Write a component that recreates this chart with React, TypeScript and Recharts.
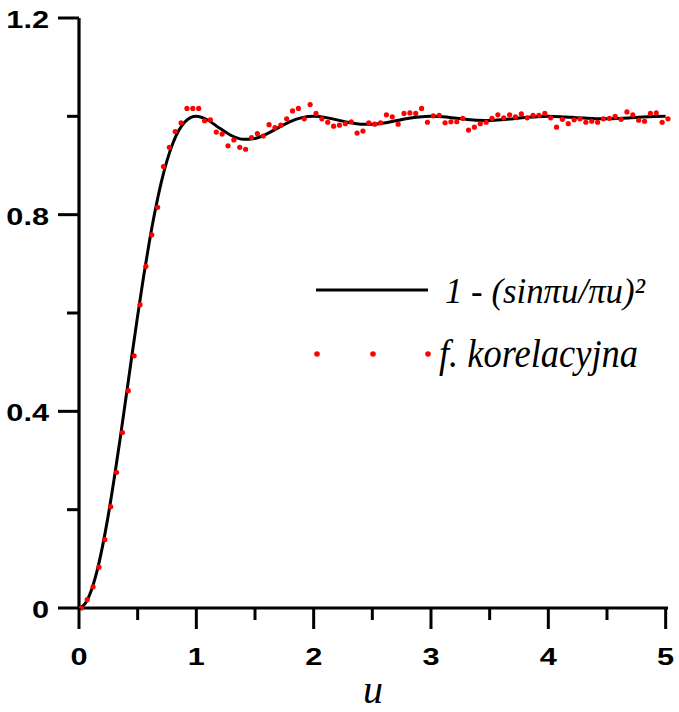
import { ComposedChart, Line, Scatter, XAxis, YAxis } from "recharts";

// theoretical curve 1 - (sin πu / πu)^2, values read at the listed u
const curveU = [
  0, 0.05, 0.1, 0.15, 0.2, 0.25, 0.3, 0.35, 0.4, 0.45, 0.5, 0.55, 0.6, 0.65, 0.7, 0.75, 0.8, 0.85, 0.9, 0.95,
  1.0, 1.1, 1.2, 1.3, 1.4, 1.5, 1.6, 1.7, 1.8, 1.9, 2.0, 2.1, 2.2, 2.3, 2.4, 2.5, 2.6, 2.7, 2.8, 2.9,
  3.0, 3.1, 3.2, 3.3, 3.4, 3.5, 3.6, 3.7, 3.8, 3.9, 4.0, 4.1, 4.2, 4.3, 4.4, 4.5, 4.6, 4.7, 4.8, 4.9, 5.0,
];
const curveV = [
  0, 0.0082, 0.0325, 0.0719, 0.1249, 0.1894, 0.2632, 0.3434, 0.4272, 0.5119, 0.5947, 0.6732, 0.7454, 0.8096,
  0.8647, 0.9099, 0.9453, 0.9711, 0.9881, 0.9973, 1.0, 0.992, 0.9757, 0.9608, 0.9532, 0.955, 0.9642, 0.9771,
  0.9892, 0.9973, 1.0, 0.9978, 0.9928, 0.9875, 0.9841, 0.9838, 0.9864, 0.9909, 0.9955, 0.9988, 1.0, 0.999,
  0.9966, 0.9939, 0.9921, 0.9917, 0.9929, 0.9952, 0.9976, 0.9994, 1.0, 0.9994, 0.998, 0.9964, 0.9953, 0.995,
  0.9957, 0.997, 0.9985, 0.9996, 1.0,
];

// correlation function samples
const dotU = [
  0.02, 0.07, 0.12, 0.17, 0.22, 0.27, 0.32, 0.37, 0.42, 0.47, 0.52, 0.57, 0.62, 0.67, 0.72, 0.77, 0.82, 0.87,
  0.92, 0.97, 1.02, 1.07, 1.12, 1.17, 1.22, 1.27, 1.32, 1.37, 1.42, 1.47, 1.52, 1.57, 1.62, 1.67, 1.72, 1.77,
  1.82, 1.87, 1.92, 1.97, 2.02, 2.07, 2.12, 2.17, 2.22, 2.27, 2.32, 2.37, 2.42, 2.47, 2.52, 2.57, 2.62, 2.67,
  2.72, 2.77, 2.82, 2.87, 2.92, 2.97, 3.02, 3.07, 3.12, 3.17, 3.22, 3.27, 3.32, 3.37, 3.42, 3.47, 3.52, 3.57,
  3.62, 3.67, 3.72, 3.77, 3.82, 3.87, 3.92, 3.97, 4.02, 4.07, 4.12, 4.17, 4.22, 4.27, 4.32, 4.37, 4.42, 4.47,
  4.52, 4.57, 4.62, 4.67, 4.72, 4.77, 4.82, 4.87, 4.92, 4.97, 5.02,
];
const dotV = [
  0.0, 0.017, 0.043, 0.083, 0.139, 0.206, 0.276, 0.357, 0.442, 0.513, 0.617, 0.695, 0.759, 0.815, 0.898, 0.937,
  0.969, 0.987, 1.016, 1.016, 1.016, 0.991, 0.993, 0.968, 0.964, 0.94, 0.952, 0.937, 0.933, 0.957, 0.965, 0.96,
  0.983, 0.977, 0.982, 0.995, 1.011, 1.016, 0.995, 1.024, 1.006, 0.995, 0.988, 0.98, 0.982, 0.985, 0.989, 0.966,
  0.97, 0.987, 0.984, 0.987, 1.003, 0.999, 0.984, 1.006, 1.007, 1.006, 1.016, 0.988, 1.001, 1.002, 0.987, 0.989,
  0.989, 0.996, 0.972, 0.978, 0.985, 0.988, 0.996, 1.003, 0.997, 1.003, 0.999, 1.005, 0.997, 1.002, 1.002, 1.006,
  0.997, 0.978, 0.994, 0.985, 0.993, 0.995, 0.988, 0.99, 0.988, 0.995, 0.996, 1.0, 0.994, 1.009, 1.003, 0.992,
  0.99, 1.006, 1.007, 0.988, 0.995,
];

const xTicks = [0, 0.5, 1, 1.5, 2, 2.5, 3, 3.5, 4, 4.5, 5];
const xLabels = [0, 1, 2, 3, 4, 5];
const yTicks = [0, 0.2, 0.4, 0.6, 0.8, 1.0, 1.2];
const yLabels = [0, 0.4, 0.8, 1.2];

const curve = curveU.map((u, i) => ({ u, v: curveV[i] }));
const dots = dotU.map((u, i) => ({ u, v: dotV[i] }));

const SANS = "'Liberation Sans', Arial, sans-serif";
const SERIF = "'Liberation Serif', 'Times New Roman', Times, serif";

const labelStyle = { fontFamily: SANS, fontWeight: 700, fontSize: 24, fill: "#000" } as const;
const serifStyle = { fontFamily: SERIF, fontStyle: "italic", fill: "#000" } as const;

const has = (list: number[], v: number) => list.some((t) => Math.abs(t - v) < 1e-6);

function XTick(props: any) {
  const { x, y, payload } = props;
  const major = has(xLabels, payload.value);
  return (
    <g>
      <line x1={x} x2={x} y1={y} y2={y + (major ? 21 : 12)} stroke="#000" strokeWidth={3} />
      {major && (
        <g transform={`translate(${x},${y + 57}) scale(1.28,1)`}>
          <text x={0} y={0} textAnchor="middle" style={labelStyle}>
            {payload.value}
          </text>
        </g>
      )}
    </g>
  );
}

function YTick(props: any) {
  const { x, y, payload } = props;
  const major = has(yLabels, payload.value);
  return (
    <g>
      <line x1={x} x2={x - (major ? 21 : 12)} y1={y} y2={y} stroke="#000" strokeWidth={3} />
      {major && (
        <g transform={`translate(${x - 30},${y + 10}) scale(1.28,1)`}>
          <text x={0} y={0} textAnchor="end" style={labelStyle}>
            {payload.value === 0 ? "0" : payload.value.toFixed(1)}
          </text>
        </g>
      )}
    </g>
  );
}

function RedDot(props: any) {
  return <circle cx={props.cx} cy={props.cy} r={2.6} fill="#ff0000" />;
}

export default function App() {
  return (
    <div style={{ position: "absolute", left: 0, top: 0, width: 679, height: 712, background: "#fff" }}>
      <ComposedChart width={679} height={712} margin={{ top: 18, right: 11, bottom: 0, left: 0 }}>
        <XAxis
          type="number"
          dataKey="u"
          domain={[0, 5]}
          ticks={xTicks}
          interval={0}
          height={104}
          tickSize={0}
          tickMargin={0}
          tickLine={false}
          tick={(p: any) => <XTick {...p} />}
          axisLine={{ stroke: "#000", strokeWidth: 3.2 }}
        />
        <YAxis
          type="number"
          dataKey="v"
          domain={[0, 1.2]}
          ticks={yTicks}
          interval={0}
          width={79}
          tickSize={0}
          tickMargin={0}
          tickLine={false}
          tick={(p: any) => <YTick {...p} />}
          axisLine={{ stroke: "#000", strokeWidth: 3.2 }}
        />
        <Line data={curve} dataKey="v" type="monotone" stroke="#000" strokeWidth={3} dot={false} isAnimationActive={false} />
        <Scatter data={dots} dataKey="v" fill="#ff0000" shape={RedDot} isAnimationActive={false} />
      </ComposedChart>

      <svg width={679} height={712} style={{ position: "absolute", left: 0, top: 0, pointerEvents: "none" }}>
        <line x1={316} x2={428} y1={290} y2={290} stroke="#000" strokeWidth={3} />
        <text x={445} y={303} textLength={200} lengthAdjust="spacingAndGlyphs" style={{ ...serifStyle, fontSize: 36 }}>
          1 - (sinπu/πu)²
        </text>
        <circle cx={317} cy={354} r={2.8} fill="#ff0000" />
        <circle cx={373} cy={354} r={2.8} fill="#ff0000" />
        <circle cx={428} cy={354} r={2.8} fill="#ff0000" />
        <text x={439} y={367} textLength={199} lengthAdjust="spacingAndGlyphs" style={{ ...serifStyle, fontSize: 40 }}>
          f. korelacyjna
        </text>
        <text x={373} y={703} textAnchor="middle" style={{ ...serifStyle, fontSize: 40 }}>
          u
        </text>
      </svg>
    </div>
  );
}
